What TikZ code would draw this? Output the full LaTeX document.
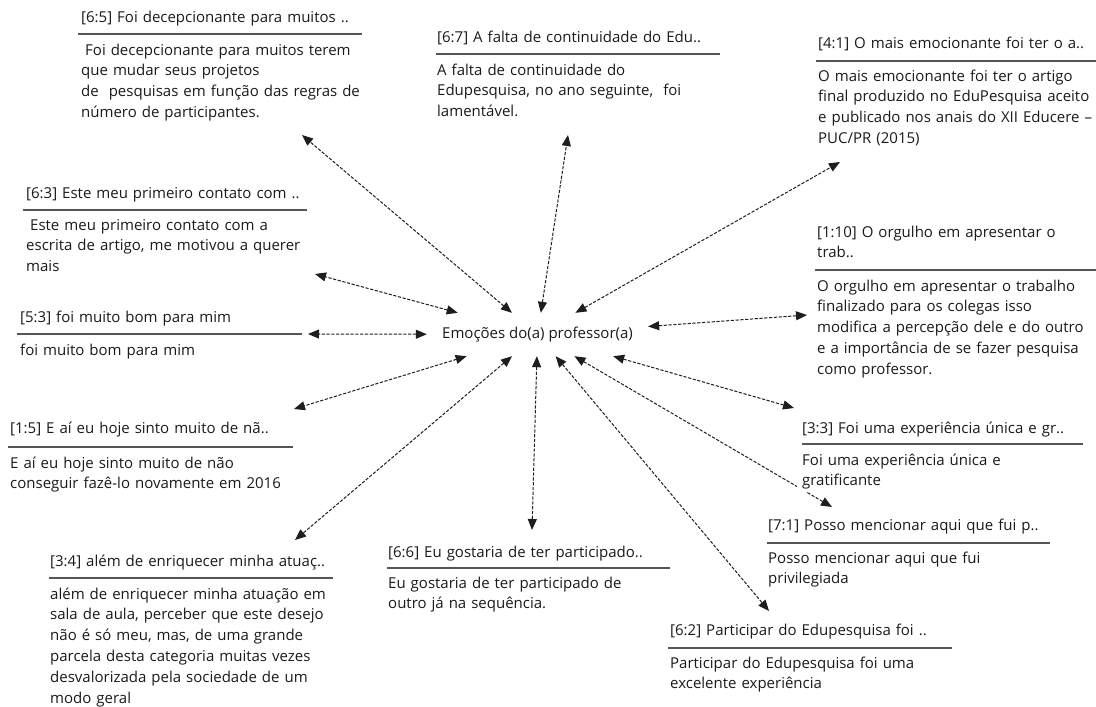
\documentclass[tikz,border=0pt]{standalone}
\usepackage{fontspec}
\setmainfont{Open Sans}
\usetikzlibrary{arrows.meta,backgrounds}
\definecolor{txt}{HTML}{1A1A1A}
\definecolor{sepc}{HTML}{555555}
\definecolor{arrc}{HTML}{1E1E1E}
\newcommand{\fsz}{\fontsize{15}{20.8}\selectfont}
\tikzset{
  ttl/.style={anchor=base west, inner sep=0pt, font=\fsz, text=txt, text width=340pt, align=left},
  bdy/.style={anchor=base west, inner sep=0pt, font=\fsz, text=txt, text width=340pt, align=left},
  sepline/.style={line width=1.5pt, draw=sepc},
  conn/.style={draw=arrc, line width=1pt, dash pattern=on 3.2pt off 1.6pt,
    {Triangle[length=11pt,width=9pt]}-{Triangle[length=11pt,width=9pt]}}
}
\begin{document}
\begin{tikzpicture}[x=1pt,y=-1pt]
\useasboundingbox (0,0) rectangle (1096,707);

% centre
\node[minimum width=221pt, minimum height=43pt, inner sep=0pt, font=\fsz, text=txt] (c) at (537.5,334.5) {Emoções do(a) professor(a)};

% [6:5]
\node[ttl] (t65) at (81,22) {[6:5] Foi decepcionante para muitos ..};
\draw[sepline] (78,34) -- (362,34);
\node[bdy] (b65) at (81,55) {\hspace*{4pt}Foi decepcionante para muitos terem\\que mudar seus projetos\\de\ \ pesquisas em função das regras de\\número de participantes.};

% [6:7]
\node[ttl] (t67) at (437,42) {[6:7] A falta de continuidade do Edu..};
\draw[sepline] (436,54) -- (720,54);
\node[bdy] (b67) at (437,75) {A falta de continuidade do\\Edupesquisa, no ano seguinte,\ \ foi\\lamentável.};

% [4:1]
\node[ttl] (t41) at (818,48) {[4:1] O mais emocionante foi ter o a..};
\draw[sepline] (816,61) -- (1096,61);
\node[bdy] (b41) at (818,81) {O mais emocionante foi ter o artigo\\final produzido no EduPesquisa aceito\\e publicado nos anais do XII Educere –\\PUC/PR (2015)};

% [6:3]
\node[ttl] (t63) at (26,198) {[6:3] Este meu primeiro contato com ..};
\draw[sepline] (23,210) -- (307,210);
\node[bdy] (b63) at (26,230) {\hspace*{4pt}Este meu primeiro contato com a\\escrita de artigo, me motivou a querer\\mais};

% [5:3]
\node[ttl] (t53) at (20,322) {[5:3] foi muito bom para mim};
\draw[sepline] (17,334) -- (302,334);
\node[bdy] (b53) at (20,355) {foi muito bom para mim};

% [1:10]
\node[ttl] (t110) at (817,237) {[1:10] O orgulho em apresentar o\\trab..};
\draw[sepline] (815,270) -- (1096,270);
\node[bdy] (b110) at (817,291) {O orgulho em apresentar o trabalho\\finalizado para os colegas isso\\modifica a percepção dele e do outro\\e a importância de se fazer pesquisa\\como professor.};

% [1:5]
\node[ttl] (t15) at (10,433) {[1:5] E aí eu hoje sinto muito de nã..};
\draw[sepline] (8,447) -- (293,447);
\node[bdy] (b15) at (10,468) {E aí eu hoje sinto muito de não\\conseguir fazê-lo novamente em 2016};

% [3:4]
\node[ttl] (t34) at (50,566) {[3:4] além de enriquecer minha atuaç..};
\draw[sepline] (49,578) -- (333,578);
\node[bdy] (b34) at (50,599) {além de enriquecer minha atuação em\\sala de aula, perceber que este desejo\\não é só meu, mas, de uma grande\\parcela desta categoria muitas vezes\\desvalorizada pela sociedade de um\\modo geral};

% [6:6]
\node[ttl] (t66) at (388,557) {[6:6] Eu gostaria de ter participado..};
\draw[sepline] (387,568) -- (670,568);
\node[bdy] (b66) at (388,588) {Eu gostaria de ter participado de\\outro já na sequência.};

% [3:3]
\node[ttl] (t33) at (802,433) {[3:3] Foi uma experiência única e gr..};
\draw[sepline] (802,444) -- (1083,444);
\node[bdy, fill=white, inner xsep=5pt, inner ysep=3pt, text width=250pt] (b33) at (797,465) {Foi uma experiência única e\\gratificante};

% [7:1]
\node[ttl] (t71) at (768,530) {[7:1] Posso mencionar aqui que fui p..};
\draw[sepline] (767,543) -- (1050,543);
\node[bdy] (b71) at (768,563) {Posso mencionar aqui que fui\\privilegiada};

% [6:2]
\node[ttl] (t62) at (670,635) {[6:2] Participar do Edupesquisa foi ..};
\draw[sepline] (668,648) -- (952,648);
\node[bdy] (b62) at (670,668) {Participar do Edupesquisa foi uma\\excelente experiência};

% free ends of the connectors
\coordinate (p65) at (302,135);
\coordinate (p67) at (568,135);
\coordinate (p41) at (840,162);
\coordinate (p63) at (315,274);
\coordinate (p53) at (308,334);
\coordinate (p110) at (807,315);
\coordinate (p15) at (294,409);
\coordinate (p34) at (295,540);
\coordinate (p66) at (532,530);
\coordinate (p33) at (794,408);
\coordinate (p71) at (832,507);
\coordinate (p62) at (769,611);

\begin{scope}[on background layer]
\draw[conn] (c) -- (p65);
\draw[conn] (c) -- (p67);
\draw[conn] (c) -- (p41);
\draw[conn] (c) -- (p63);
\draw[conn] (c) -- (p53);
\draw[conn] (c) -- (p110);
\draw[conn] (c) -- (p15);
\draw[conn] (c) -- (p34);
\draw[conn] (c) -- (p66);
\draw[conn] (c) -- (p33);
\draw[conn] (c) -- (p71);
\draw[conn] (c) -- (p62);
\end{scope}
\end{tikzpicture}
\end{document}
